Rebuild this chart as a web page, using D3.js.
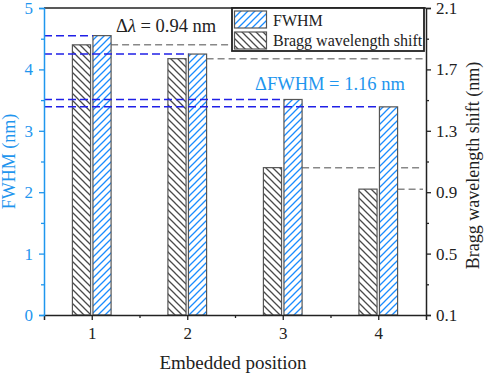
<!DOCTYPE html>
<html><head><meta charset="utf-8">
<script src="https://cdn.jsdelivr.net/npm/d3@7"></script>
<style>body{margin:0;background:#fff}svg{display:block}text{font-family:"Liberation Serif","Times New Roman",serif}</style>
</head><body><svg id="c" width="484" height="377"></svg>
<script>
const positions = [1, 2, 3, 4];
const fwhm = [4.55, 4.25, 3.51, 3.39];
const braggShift = [1.86, 1.77, 1.06, 0.92];
const leftTicks = [0, 1, 2, 3, 4, 5];
const leftMinor = [0.5, 1.5, 2.5, 3.5, 4.5];
const rightTicks = [0.1, 0.5, 0.9, 1.3, 1.7, 2.1];
const rightMinor = [0.3, 0.7, 1.1, 1.5, 1.9];
const bottomMinor = [1.5, 2.5, 3.5];
const seriesNames = ["FWHM", "Bragg wavelength shift"];

const BLUE = "#1f96ee", HBLUE = "#1a8cff", DBLUE = "#2020e6", GRAY = "#888", EDGE = "#555";
const svg = d3.select("#c");
const L = 44, R = 426, T = 8, B = 315;
const x = d3.scaleLinear().domain([0.5, 4.5]).range([L, R]);
const yL = d3.scaleLinear().domain([0, 5]).range([B, T]);
const yR = d3.scaleLinear().domain([0.1, 2.1]).range([B, T]);
const bw = 0.19, gap = 0.0125;

const defs = svg.append("defs");
const S = 7;
function hatch(id, color, dir) {
  const p = defs.append("pattern").attr("id", id).attr("patternUnits", "userSpaceOnUse")
    .attr("width", S).attr("height", S);
  p.append("rect").attr("width", S).attr("height", S).attr("fill", "#fff");
  const d = dir > 0
    ? `M0,${S}L${S},0M-1,1L1,-1M${S - 1},${S + 1}L${S + 1},${S - 1}`
    : `M0,0L${S},${S}M-1,${S - 1}L1,${S + 1}M${S - 1},-1L${S + 1},1`;
  p.append("path").attr("d", d).attr("fill", "none").style("stroke", color).style("stroke-width", "1.3px");
}
hatch("hb", HBLUE, 1);
hatch("hg", "#4a4a4a", -1);

// gray reference lines (behind bars)
svg.append("g").selectAll("line").data(positions).join("line")
  .attr("x1", d => x(d + gap + bw)).attr("x2", R - 3)
  .attr("y1", (d, i) => yR(braggShift[i])).attr("y2", (d, i) => yR(braggShift[i]))
  .attr("stroke", GRAY).attr("stroke-width", 1.5).attr("stroke-dasharray", "7,4");

// bars
svg.append("g").selectAll("rect").data(positions).join("rect")
  .attr("x", d => x(d - gap - bw)).attr("width", x(bw) - x(0))
  .attr("y", (d, i) => yR(braggShift[i])).attr("height", (d, i) => B - yR(braggShift[i]))
  .attr("fill", "url(#hg)").attr("stroke", EDGE).attr("stroke-width", 1.2);
svg.append("g").selectAll("rect").data(positions).join("rect")
  .attr("x", d => x(d + gap)).attr("width", x(bw) - x(0))
  .attr("y", (d, i) => yL(fwhm[i])).attr("height", (d, i) => B - yL(fwhm[i]))
  .attr("fill", "url(#hb)").attr("stroke", EDGE).attr("stroke-width", 1.2);

// blue reference lines (on top)
svg.append("g").selectAll("line").data(positions).join("line")
  .attr("x1", L).attr("x2", d => x(d + gap))
  .attr("y1", (d, i) => yL(fwhm[i])).attr("y2", (d, i) => yL(fwhm[i]))
  .attr("stroke", DBLUE).attr("stroke-width", 1.5).attr("stroke-dasharray", "8,4");

// frame top
svg.append("line").attr("x1", L).attr("x2", R).attr("y1", T).attr("y2", T).attr("stroke", "#222").attr("stroke-width", 1.5);

// axes
function styleAxis(g, color) {
  g.attr("font-family", null);
  g.selectAll("path.domain").attr("stroke", color).attr("stroke-width", 1.5);
  g.selectAll(".tick line").attr("stroke", color).attr("stroke-width", 1.3);
  g.selectAll(".tick text").attr("fill", color).style("font-size", "17px")
    .style("font-family", '"Liberation Serif","Times New Roman",serif');
}
const ax = svg.append("g").attr("transform", `translate(0,${B})`)
  .call(d3.axisBottom(x).tickValues(positions).tickFormat(d3.format("d")).tickSize(5).tickPadding(7));
svg.append("g").attr("transform", `translate(0,${B})`)
  .call(d3.axisBottom(x).tickValues(bottomMinor).tickFormat("").tickSize(3))
  .call(g => { g.select(".domain").remove(); g.selectAll("line").attr("stroke", "#222").attr("stroke-width", 1.3); });
styleAxis(ax, "#222");

const al = svg.append("g").attr("transform", `translate(${L},0)`)
  .call(d3.axisLeft(yL).tickValues(leftTicks).tickFormat(d3.format("d")).tickSize(5).tickPadding(6));
svg.append("g").attr("transform", `translate(${L},0)`)
  .call(d3.axisLeft(yL).tickValues(leftMinor).tickFormat("").tickSize(3))
  .call(g => { g.select(".domain").remove(); g.selectAll("line").attr("stroke", BLUE).attr("stroke-width", 1.3); });
styleAxis(al, BLUE);

const ar = svg.append("g").attr("transform", `translate(${R},0)`)
  .call(d3.axisRight(yR).tickValues(rightTicks).tickFormat(d3.format(".1f")).tickSize(5).tickPadding(5));
svg.append("g").attr("transform", `translate(${R},0)`)
  .call(d3.axisRight(yR).tickValues(rightMinor).tickFormat("").tickSize(3))
  .call(g => { g.select(".domain").remove(); g.selectAll("line").attr("stroke", "#222").attr("stroke-width", 1.3); });
styleAxis(ar, "#222");

// axis titles
svg.append("text").attr("x", (L + R) / 2 - 2).attr("y", 369).attr("text-anchor", "middle")
  .style("font-size", "19px").attr("fill", "#222").text("Embedded position");
svg.append("text").attr("transform", `translate(15,${(T + B) / 2}) rotate(-90)`).attr("text-anchor", "middle")
  .style("font-size", "18px").attr("fill", BLUE).text("FWHM (nm)");
svg.append("text").attr("transform", `translate(479,${(T + B) / 2 + 4}) rotate(-90)`).attr("text-anchor", "middle")
  .style("font-size", "18px").attr("fill", "#222").text("Bragg wavelength shift (nm)");

// annotations
const a1 = svg.append("text").attr("x", 116).attr("y", 32).style("font-size", "18.5px").attr("fill", "#222");
a1.append("tspan").text("Δ");
a1.append("tspan").style("font-style", "italic").text("λ");
a1.append("tspan").text(" = 0.94 nm");
svg.append("text").attr("x", 255).attr("y", 90).style("font-size", "18.5px").attr("fill", BLUE).text("ΔFWHM = 1.16 nm");

// legend
const lg = svg.append("g");
lg.append("rect").attr("x", 232).attr("y", T).attr("width", 192).attr("height", 43)
  .attr("fill", "#fff").attr("stroke", "#222").attr("stroke-width", 1.8);
const fills = ["url(#hb)", "url(#hg)"];
seriesNames.forEach((n, i) => {
  lg.append("rect").attr("x", 234.5).attr("y", 11 + i * 21).attr("width", 32).attr("height", 17)
    .attr("fill", fills[i]).attr("stroke", EDGE).attr("stroke-width", 1.2);
  lg.append("text").attr("x", 273).attr("y", 26 + i * 19.5).style("font-size", "16px").attr("fill", "#222").text(n);
});
</script></body></html>
